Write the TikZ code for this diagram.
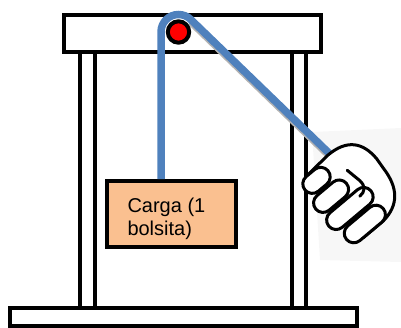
\documentclass[tikz,border=0pt]{standalone}
\usepackage{fontspec}
\setmainfont{Liberation Sans}
\usepackage{tikz}
\definecolor{ropeblue}{HTML}{4F81BD}
\definecolor{loadorange}{HTML}{FAC090}

\begin{document}
\begin{tikzpicture}[x=1pt, y=-1pt,
frame/.style={draw, fill=white, rectangle, line width=4pt, inner sep=0pt},
load/.style={draw, fill=loadorange, rectangle, line width=4pt, inner sep=0pt},
rope/.style={draw=ropeblue, line width=7.5pt},
fist/.style={draw, fill=white, line width=3pt, line join=round, line cap=round}]

\useasboundingbox (0,0) rectangle (401,327);

\fill[black!3] (312,132) -- (401,128) -- (401,262) -- (320,260) -- cycle;

\node[frame, minimum width=15pt, minimum height=256pt]		(postL) at (87,180)		{};
\node[frame, minimum width=14.3pt, minimum height=256pt]	(postR) at (298.85,180)	{};
\node[frame, minimum width=257pt, minimum height=37pt]		(beam) at (192,33.5)		{};
\node[frame, minimum width=346.8pt, minimum height=17.5pt]	(base) at (183.1,317)		{};

\node[load, minimum width=128.8pt, minimum height=65.5pt]	(carga) at (171.1,213.75)	{};
\node[anchor=north west, inner sep=0pt, align=left, font=\fontsize{20}{23}\selectfont]
	(cargatxt) at (127.3,198) {Carga (1\\bolsita)};

\coordinate (axle) at (178.5,32);
\coordinate (left) at ([xshift=-17.5pt]axle);
\coordinate (wrap) at ([shift={(-46:17.5)}]axle);
\coordinate (grip) at (333,157);

\draw[gray!60, line width=7.5pt] ([yshift=-2.2pt]wrap) -- ([yshift=-2.2pt]grip);
\draw[rope] (carga.north -| left) -- (left) arc[start angle=180, end angle=314, radius=17.5] -- (grip);

\node[circle, draw, fill=red, line width=4pt, minimum size=21.4pt, inner sep=0pt] (pulley) at (axle) {};

% fist, drawn along its own axes
\begin{scope}[shift={(305,190)}, rotate=40]
\draw[fist] (14,-10) -- (40,-12) .. controls (64,-12) and (75,0) .. (75,22) -- (74,34) .. controls (73,58) and (62,72) .. (40,74) -- (14,74) -- cycle;
\foreach \b/\t/\e in {0/0/30, 21.5/-4/36, 43/-5/50, 64.5/0/48}
  \draw[fist, rounded corners=9.5pt] (\t,\b-9.5) rectangle (\e,\b+9.5);
\draw[fist, fill=none] (45,12) -- (48,28) .. controls (49,36) and (45,40) .. (38,40);
\end{scope}

\end{tikzpicture}
\end{document}
